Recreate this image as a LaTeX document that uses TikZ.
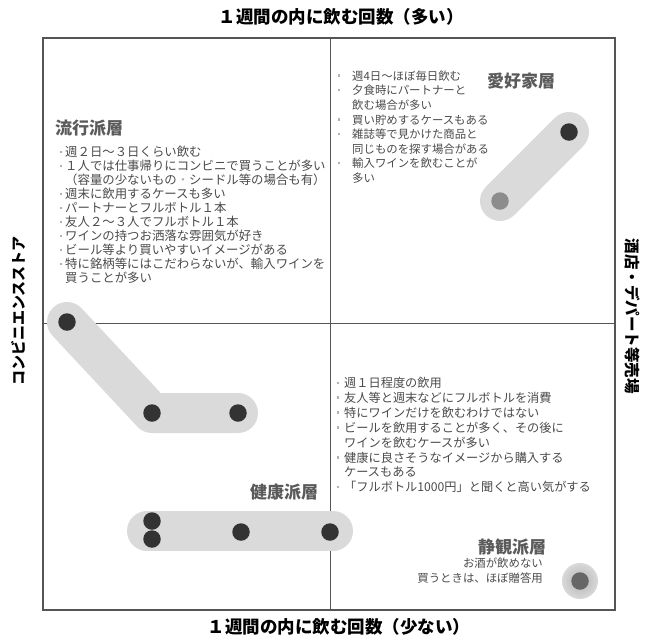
\documentclass[tikz,border=0pt]{standalone}
\usepackage{fontspec}
\setmainfont{Noto Sans CJK JP}
\definecolor{frame}{HTML}{555555}
\definecolor{pill}{HTML}{DADADA}
\definecolor{dotc}{HTML}{333333}
\definecolor{head}{HTML}{5A5A5A}
\definecolor{txt}{HTML}{4A4A4A}
\newcommand\bl[1][3pt]{\llap{\textcolor{black!30}{\rule[3.5pt]{2.6pt}{2.6pt}}\hspace{#1}}}
\begin{document}
\begin{tikzpicture}[x=1pt,y=-1pt,
  axislab/.style={font=\fontsize{17.5}{19}\selectfont\bfseries, text=black, inner sep=0pt},
  headlab/.style={font=\fontsize{17}{19}\selectfont\bfseries, text=head, inner sep=0pt},
  bodytl/.style={font=\fontsize{12.4}{14}\selectfont, text=txt, inner sep=0pt, anchor=base west},
  bodytr/.style={font=\fontsize{11.4}{14}\selectfont, text=txt, inner sep=0pt, anchor=base west},
  bodybr/.style={font=\fontsize{12.2}{14}\selectfont, text=txt, inner sep=0pt, anchor=base west},
  pillpath/.style={line width=40pt, draw=pill, line cap=round, line join=round},
  dark/.style={circle, fill=dotc, inner sep=0pt, minimum size=17.5pt},
  ]
\useasboundingbox (0,0) rectangle (651,638);
% frame
\draw[frame, line width=1.6pt] (43,38) rectangle (615,610);
\draw[frame, line width=1pt] (330,38) -- (330,610);
\draw[frame, line width=1pt] (43,323) -- (615,323);

% axis labels
\node[axislab] (top) at (341,17) {１週間の内に飲む回数（多い）};
\node[axislab] (bottom) at (339,627) {１週間の内に飲む回数（少ない）};
\node[axislab, rotate=90, font=\fontsize{15}{17}\selectfont\bfseries] (left) at (18,311) {コンビニエンスストア};
\node[axislab, rotate=-90, font=\fontsize{15.5}{17}\selectfont\bfseries] (right) at (633,316) {酒店・デパート等売場};

% pills
\coordinate (p1) at (67,322);
\coordinate (p2) at (152,413);
\coordinate (p3) at (238,413);
\draw[pillpath] (p1) -- (p2) -- (p3);
\coordinate (q1) at (147,531);
\coordinate (q2) at (333,531);
\draw[pillpath] (q1) -- (q2);
\coordinate (r1) at (569,132);
\coordinate (r2) at (500,201);
\draw[pillpath] (r1) -- (r2);

% dots
\node[dark] (d1) at (p1) {};
\node[dark] (d2) at (p2) {};
\node[dark] (d3) at (p3) {};
\node[dark] (e1) at (152,521) {};
\node[dark] (e2) at (152,539) {};
\node[dark] (e3) at (241,532) {};
\node[dark] (e4) at (330,532) {};
\node[dark] (f1) at (r1) {};
\node[circle, fill=black!45, inner sep=0pt, minimum size=17.5pt] (f2) at (r2) {};
\node[circle, inner color=black!30, outer color=black!15, inner sep=0pt, minimum size=36pt] (g0) at (580,581) {};
\node[circle, fill=black!60, inner sep=0pt, minimum size=17.5pt] (g1) at (g0) {};

% headings
\node[headlab, anchor=west] (h1) at (55,128) {流行派層};
\node[headlab, anchor=west] (h2) at (487,81) {愛好家層};
\node[headlab, anchor=west] (h3) at (250,492) {健康派層};
\node[headlab, anchor=west] (h4) at (478,547) {静観派層};

% top-left body
\foreach \t [count=\i] in {
  \bl 週２日〜３日くらい飲む,
  \bl １人では仕事帰りにコンビニで買うことが多い,
  （容量の少ないもの\textcolor{black!30}{・}シードル等の場合も有）,
  \bl 週末に飲用するケースも多い,
  \bl パートナーとフルボトル１本,
  \bl 友人２〜３人でフルボトル１本,
  \bl ワインの持つお洒落な雰囲気が好き,
  \bl ビール等より買いやすいイメージがある,
  \bl 特に銘柄等にはこだわらないが、輸入ワインを,
  買うことが多い}
  \node[bodytl] (tl\i) at (65,{156.7+14*(\i-1)}) {\t};

% top-right body
\foreach \t [count=\i] in {
  \bl[12pt]週4日〜ほぼ毎日飲む,
  \bl[12pt]夕食時にパートナーと,
  飲む場合が多い,
  \bl[12pt]買い貯めするケースもある,
  \bl[12pt]雑誌等で見かけた商品と,
  同じものを探す場合がある,
  \bl[12pt]輸入ワインを飲むことが,
  多い}
  \node[bodytr] (tr\i) at (352,{80.4+14.57*(\i-1)}) {\t};

% bottom-right body
\foreach \t [count=\i] in {
  \bl[5pt]週１日程度の飲用,
  \bl[5pt]友人等と週末などにフルボトルを消費,
  \bl[5pt]特にワインだけを飲むわけではない,
  \bl[5pt]ビールを飲用することが多く、その後に,
  ワインを飲むケースが多い,
  \bl[5pt]健康に良さそうなイメージから購入する,
  ケースもある,
  \bl[5pt]「フルボトル1000円」と聞くと高い気がする}
  \node[bodybr] (br\i) at (344,{387.7+14.86*(\i-1)}) {\t};

% bottom-right small text
\node[bodytr, anchor=base east] (s1) at (543,567) {お酒が飲めない};
\node[bodytr, anchor=base east] (s2) at (543,582) {買うときは、ほぼ贈答用};
\end{tikzpicture}
\end{document}
